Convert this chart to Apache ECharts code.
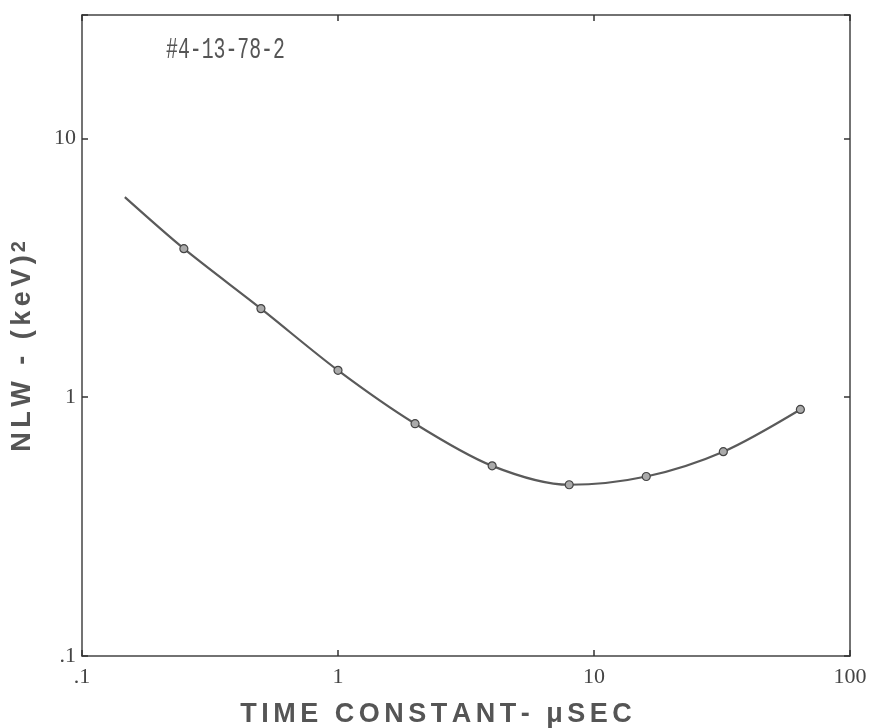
<!DOCTYPE html>
<html>
<head>
<meta charset="utf-8">
<script src="https://cdn.jsdelivr.net/npm/echarts@6/dist/echarts.min.js"></script>
<style>
  html, body { margin: 0; padding: 0; background: #fff; }
  #chart { width: 870px; height: 728px; }
</style>
</head>
<body>
<div id="chart"></div>
<script>
  // time constant (µs) of the measured points
  const timeConst = [0.25, 0.5, 1, 2, 4, 8, 16, 32, 64]
  // NLW (keV)^2 at each point
  const nlw = [3.75, 2.2, 1.27, 0.79, 0.543, 0.459, 0.494, 0.616, 0.897]
  // start of the drawn curve, left of the first point
  const curveStart = [0.147, 5.93]
  const xTicks = [0.1, 1, 10, 100]
  const yTicks = [0.1, 1, 10]

  const fmt = (v) => {
    const r = Math.round(v * 1000) / 1000
    return r === 0.1 ? '.1' : String(r)
  }
  // spread letters out a little like the typed original
  const spaced = (s, gap) => s.split('').join(gap)

  const lineData = [{ value: curveStart, symbol: 'none' }].concat(
    timeConst.map((t, i) => [t, nlw[i]])
  )

  const axisLine = { show: true, lineStyle: { color: '#444', width: 1.5 } }
  const axisTick = { show: true, inside: true, length: 6, lineStyle: { color: '#333', width: 1.5 } }
  const tickFont = { fontFamily: 'Liberation Serif', fontSize: 22, color: '#444' }
  const nameFont = { fontFamily: 'Liberation Sans', fontWeight: 'bold', fontSize: 27, color: '#555' }

  const myChart = echarts.init(document.getElementById('chart'))
  const option = {
    animation: false,
    grid: { left: 82, right: 20, top: 15, bottom: 72, outerBoundsMode: 'none' },
    graphic: [
      {
        type: 'text',
        left: 166,
        top: 35,
        scaleX: 0.66,
        style: {
          text: '#4-13-78-2',
          font: '30px "Liberation Mono"',
          fill: '#555'
        }
      }
    ],
    xAxis: [
      {
        type: 'log',
        logBase: 10,
        min: 0.1,
        max: 100,
        position: 'bottom',
        axisLine: axisLine,
        axisTick: axisTick,
        splitLine: { show: false },
        axisLabel: Object.assign({ margin: 10, formatter: fmt, customValues: xTicks }, tickFont),
        name: spaced('TIME CONSTANT- \u03bcSEC', '\u200a\u200a'),
        nameLocation: 'middle',
        nameGap: 45,
        nameTextStyle: Object.assign({ padding: [0, 60, 0, 0] }, nameFont)
      },
      {
        type: 'log',
        logBase: 10,
        min: 0.1,
        max: 100,
        position: 'top',
        axisLine: axisLine,
        axisTick: axisTick,
        splitLine: { show: false },
        axisLabel: { show: false }
      }
    ],
    yAxis: [
      {
        type: 'log',
        logBase: 10,
        min: 0.1,
        max: 30,
        position: 'left',
        axisLine: axisLine,
        axisTick: axisTick,
        splitLine: { show: false },
        axisLabel: Object.assign({ margin: 6, formatter: fmt, customValues: yTicks }, tickFont),
        name: spaced('NLW - (keV)', '\u200a\u200a') + '{sup|2}',
        nameLocation: 'middle',
        nameGap: 46,
        nameTextStyle: Object.assign({
          padding: [0, 22, 0, 0],
          rich: {
            sup: { fontFamily: 'Liberation Sans', fontWeight: 'bold', fontSize: 20, color: '#555', verticalAlign: 'top', padding: [0, 0, 0, 3] }
          }
        }, nameFont)
      },
      {
        type: 'log',
        logBase: 10,
        min: 0.1,
        max: 30,
        position: 'right',
        axisLine: axisLine,
        axisTick: axisTick,
        splitLine: { show: false },
        axisLabel: { show: false }
      }
    ],
    series: [
      {
        type: 'line',
        data: lineData,
        smooth: 0.3,
        symbol: 'circle',
        symbolSize: 8,
        lineStyle: { color: '#5a5a5a', width: 2.2 },
        itemStyle: { color: '#aaa', borderColor: '#444', borderWidth: 1.2 }
      }
    ]
  }
  myChart.setOption(option)
</script>
</body>
</html>
